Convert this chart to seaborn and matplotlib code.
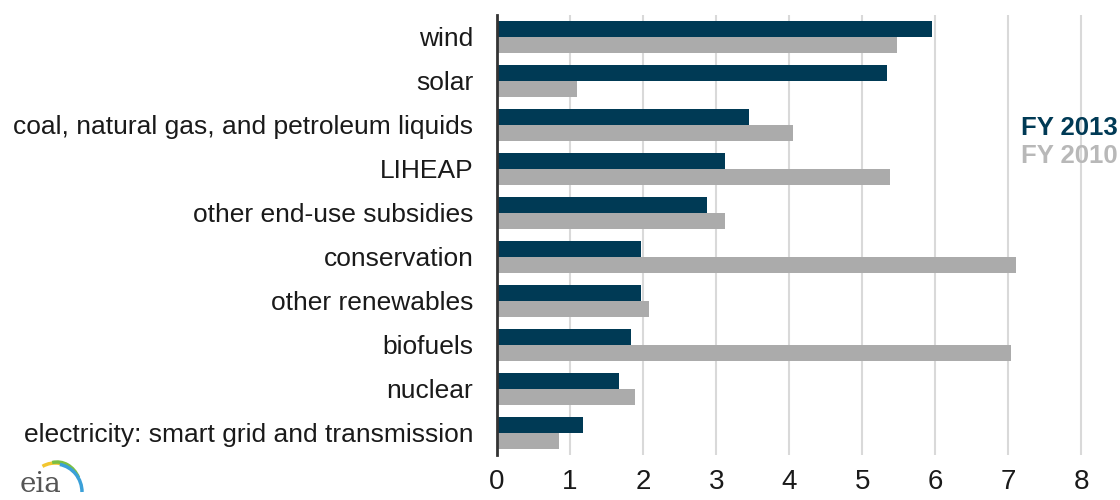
import matplotlib
matplotlib.use("Agg")
import matplotlib.pyplot as plt
import seaborn as sns
import pandas as pd
from matplotlib.patches import Arc

categories = ["wind", "solar", "coal, natural gas, and petroleum liquids", "LIHEAP",
              "other end-use subsidies", "conservation", "other renewables", "biofuels",
              "nuclear", "electricity: smart grid and transmission"]
fy2013 = [5.95, 5.34, 3.45, 3.12, 2.88, 1.97, 1.97, 1.84, 1.67, 1.18]
fy2010 = [5.48, 1.10, 4.05, 5.38, 3.12, 7.10, 2.08, 7.03, 1.89, 0.85]
series = ["FY 2013", "FY 2010"]
xticks = [0, 1, 2, 3, 4, 5, 6, 7, 8]

df = pd.DataFrame({
    "category": categories * 2,
    "value": fy2013 + fy2010,
    "year": [series[0]] * len(categories) + [series[1]] * len(categories),
})

sns.set_style("white")
plt.rcParams['font.family'] = ['Liberation Sans', 'DejaVu Sans']

fig = plt.figure(figsize=(11.2, 5), dpi=100)
ax = fig.add_axes([497/1120, 1 - 455/500, (1096-497)/1120, 440/500])

navy = "#003a55"
gray = "#ababab"
sns.barplot(data=df, y="category", x="value", hue="year", order=categories,
            hue_order=series, palette=[navy, gray], orient="h", width=0.74,
            ax=ax, legend=False, saturation=1, linewidth=0)

ax.set_xlim(0, 8.2)
ax.set_ylim(9.5, -0.5)
ax.set_xticks(xticks)
ax.set_xticklabels([str(t) for t in xticks], fontsize=20, color="#1a1a1a")
ax.set_xlabel("")
ax.set_ylabel("")
ax.tick_params(axis="y", length=0, pad=17, labelsize=19, labelcolor="#1a1a1a")
ax.tick_params(axis="x", length=0, pad=10)
ax.set_axisbelow(True)
ax.grid(axis="x", color="#d9d9d9", linewidth=1.5)
ax.grid(axis="y", visible=False)
for s in ["top", "right", "bottom"]:
    ax.spines[s].set_visible(False)
ax.spines["left"].set_color("#333333")
ax.spines["left"].set_linewidth(2)

fig.text(1021/1120, 1 - 128/500, "FY 2013", color=navy, fontsize=18.5,
         fontweight="bold", va="center", ha="left")
fig.text(1021/1120, 1 - 156/500, "FY 2010", color="#b8b8b8", fontsize=18.5,
         fontweight="bold", va="center", ha="left")

# eia logo
fig.text(20/1120, 1 - 484/500, "eia", fontsize=20, color="#555555",
         family="DejaVu Serif", va="center", ha="left")
lax = fig.add_axes([15/1120, 4/500, 70/1120, 40/500])
lax.set_xlim(0, 70)
lax.set_ylim(0, 40)
lax.axis("off")
lax.add_patch(Arc((40, 8), 50, 50, theta1=40, theta2=120, color="#f2c62f", lw=2.5))
lax.add_patch(Arc((42, 6), 48, 56, theta1=30, theta2=100, color="#7bbf44", lw=2.5))
lax.add_patch(Arc((40, 4), 54, 56, theta1=0, theta2=80, color="#3ba0d8", lw=2.5))

fig.savefig("out.png", dpi=100)
